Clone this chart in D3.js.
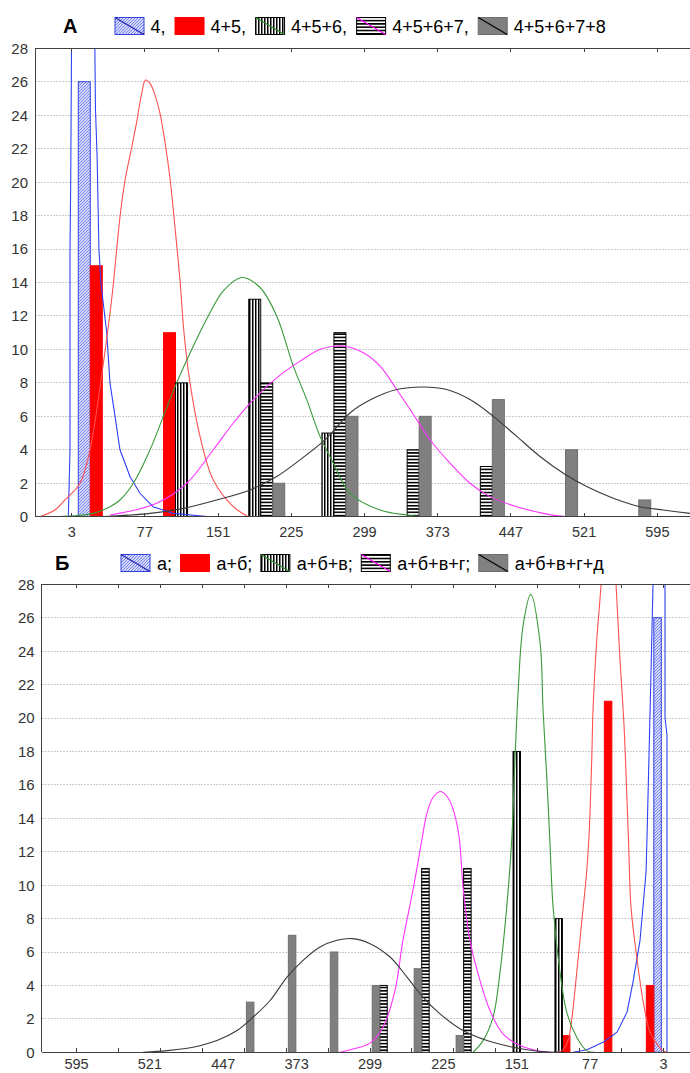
<!DOCTYPE html>
<html><head><meta charset="utf-8">
<script src="https://cdn.jsdelivr.net/npm/d3@7"></script>
<style>
body{margin:0;background:#fff}
svg{display:block}
text{font-family:"Liberation Sans",Arial,sans-serif}
</style>
</head><body>
<svg id="c" width="690" height="1073"></svg>
<script>
// ================= DATA =================
// Panel A
const titleA = "А";
const seriesA = ["4,", "4+5,", "4+5+6,", "4+5+6+7,", "4+5+6+7+8"];
const binEdgesA = [3, 77, 151, 225, 299, 373, 447, 521, 595];
const tickLabelsA = [3, 77, 151, 225, 299, 373, 447, 521, 595];
const countsA1 = [26, 0, 0, 0, 0, 0, 0, 0];
const countsA2 = [15, 11, 0, 0, 0, 0, 0, 0];
const countsA3 = [0, 8, 13, 5, 0, 0, 0, 0];
const countsA4 = [0, 0, 8, 11, 4, 3, 0, 0];
const countsA5 = [0, 0, 2, 6, 6, 7, 4, 1];
const curveA1 = [[-0.4,0],[1.3,4],[1.3,16],[2.0,20],[3.0,30],[14,42],[25.8,30],[26.4,28],[27,24.4],[28.7,21.5],[30.5,16],[32.5,14],[38.4,11],[41.7,8],[46.8,6],[51.8,4],[61.9,2.4],[72,1.4],[85.2,0.6],[105.4,0.2],[142.8,0]];
const curveA2 = [[-29,0],[-14,0.4],[-3.8,1],[11.4,2],[21.5,4],[34.6,9],[43.4,13],[48.5,16],[51.8,17.9],[56.9,20.1],[63.7,22.1],[68.7,23.6],[73.8,25.3],[77.6,26.1],[82.2,25.9],[87.2,25.2],[92.3,24.1],[97.3,22.4],[102.4,20.2],[107.4,17.3],[112.5,14.1],[116.5,11],[122.6,8],[132.7,4.8],[146.1,2.2],[166.4,0.6],[181.5,0]];
const curveA3 = [[-12.2,0],[24.8,0.2],[41.7,0.6],[51.8,1],[65.3,2],[82.2,4],[95.6,6],[109.1,8],[124.3,10],[141.1,12],[156.3,13.5],[174.9,14.3],[193.4,13.7],[210.2,12],[227,9],[240.6,7],[254,4.8],[267.5,3.2],[284.3,1.4],[314.7,0.4],[341.7,0.1],[360,0]];
const curveA4 = [[41.7,0.1],[88.9,0.8],[119.3,2],[146.1,4],[166.4,5.6],[186.6,7],[210.2,8.3],[233.8,9.3],[254,10],[270.9,10.2],[277.6,10.2],[297.8,9.8],[314.7,9],[331.5,7.6],[351.8,5.8],[365.2,4.6],[385.4,3.2],[405.6,2],[425.8,1.2],[452.9,0.6],[479.7,0.2],[503.4,0],[526.9,0]];
const curveA5 = [[31.7,0],[82.2,0.2],[115.8,0.5],[149.6,1],[183.2,1.6],[210.2,2.4],[233.8,3.4],[257.3,4.5],[264.1,4.9],[284.3,6.2],[305.5,7],[331.5,7.6],[358.4,7.75],[382.1,7.6],[405.6,7],[429.2,6],[452.9,4.8],[476.4,3.6],[500,2.6],[523.6,1.8],[550.5,1.1],[577.4,0.6],[601,0.4],[628,0.2]];

// Panel B
const titleB = "Б";
const seriesB = ["а;", "а+б;", "а+б+в;", "а+б+в+г;", "а+б+в+г+д"];
const binEdgesB = [3, 45.3, 87.6, 129.9, 172.1, 214.4, 256.7, 299, 341.3, 383.6, 425.9, 468.1, 510.4, 552.7, 595];
const tickLabelsB = [595, 521, 447, 373, 299, 225, 151, 77, 3];
const countsB1 = [26, 0, 0, 0, 0, 0, 0, 0, 0, 0, 0, 0, 0, 0];
const countsB2 = [4, 21, 1, 0, 0, 0, 0, 0, 0, 0, 0, 0, 0, 0];
const countsB3 = [0, 0, 8, 18, 0, 0, 0, 0, 0, 0, 0, 0, 0, 0];
const countsB4 = [0, 0, 0, 0, 11, 11, 4, 0, 0, 0, 0, 0, 0, 0];
const countsB5 = [0, 0, 0, 0, 1, 5, 4, 6, 7, 3, 0, 0, 0, 0];
const curveB1 = [[94.3,0],[80.2,0.15],[64,0.6],[49.9,1.2],[39.8,2.4],[33.8,4.2],[26.7,6.7],[20.6,10.8],[19.6,13],[15.9,22],[13.6,28],[8,40],[2.5,30],[1.5,28],[1.5,20],[-0.5,19],[-0.5,0]];
const curveB2 = [[110.4,0],[104.4,0.15],[99.3,0.7],[95.6,1.95],[90.5,4.8],[85.5,7.8],[80.5,10.8],[78.1,13],[75.4,17.5],[74.1,20.5],[70.4,24.6],[66,28],[59,36],[50.9,28],[46.9,23.5],[42.8,19.5],[40.1,15.5],[38.3,12.7],[35.8,8.7],[30,5.7],[23.7,3.1],[16.6,1.2],[8.5,0.4],[3.5,0.1],[-0.5,0]];
const curveB3 = [[195.1,0],[185,0.7],[174.9,2.1],[167.9,4.8],[161.1,8.7],[156.1,12.7],[152.8,17.5],[149.7,21.5],[144.7,25.5],[136.9,27.4],[127.5,24.5],[124.5,20.5],[120.8,16.5],[117.5,12.5],[114.4,8.7],[107.4,4.8],[100.6,2.4],[90.5,0.9],[80.5,0.1],[72.1,0]];
const curveB4 = [[329.3,0],[319.2,0.15],[299,0.55],[285.9,1.5],[273.8,3.7],[265.8,6.7],[255.7,9.7],[247,12.6],[242,14.2],[236,15.2],[228,15.6],[220,15.2],[214,14.3],[209,12.8],[204.9,9.7],[198.2,6.7],[188.1,4.3],[178,2.5],[164.9,1.1],[147.7,0.4],[130.6,0.1],[117.5,0]];
const curveB5 = [[527.9,0],[503.7,0.1],[477.5,0.3],[453.3,0.7],[433.1,1.3],[417,2.1],[399.8,3.1],[382.7,4.5],[366.5,5.5],[349.4,6.3],[332.3,6.7],[317.1,6.8],[299,6.5],[278.8,5.7],[261.7,4.5],[245.6,3.3],[228.4,2.3],[205.2,1.3],[181,0.7],[154.8,0.3],[127.5,0.05],[107.4,0]];

const yTicks = [0, 2, 4, 6, 8, 10, 12, 14, 16, 18, 20, 22, 24, 26, 28];

// ================= STYLE =================
const barFill = ["url(#hatchBlue)", "#ff0000", "url(#vstripe)", "url(#hstripe)", "#808080"];
const barStroke = ["#3344dd", "#ff0000", "#000000", "#000000", "#6e6e6e"];
const curveColor = ["#3040f5", "#ff5050", "#3a9a3a", "#ff33ff", "#3a3a3a"];
const swatchDiag = ["#2020b0", null, "#2a8a2a", "#ff00ff", "#000000"];
const curveSmooth = [false, true, true, true, true];

const svg = d3.select("#c");
const defs = svg.append("defs");
const pb = defs.append("pattern").attr("id","hatchBlue").attr("patternUnits","userSpaceOnUse").attr("width",3).attr("height",3);
pb.append("rect").attr("width",3).attr("height",3).attr("fill","#d3d7fa");
pb.append("path").attr("d","M-1,1 L1,-1 M0,3 L3,0 M2,4 L4,2").attr("stroke","#6270ee").attr("stroke-width",0.8);
const pv = defs.append("pattern").attr("id","vstripe").attr("patternUnits","userSpaceOnUse").attr("width",3).attr("height",3);
pv.append("rect").attr("width",3).attr("height",3).attr("fill","#fff");
pv.append("rect").attr("width",1.5).attr("height",3).attr("fill","#000");
const ph = defs.append("pattern").attr("id","hstripe").attr("patternUnits","userSpaceOnUse").attr("width",3).attr("height",3.3);
ph.append("rect").attr("width",3).attr("height",3.3).attr("fill","#fff");
ph.append("rect").attr("width",3).attr("height",1.6).attr("fill","#000");

function drawPanel(cfg) {
  const x = d3.scaleLinear().domain(cfg.xDomain).range([cfg.left, cfg.right]);
  const y = d3.scaleLinear().domain([0, 28]).range([cfg.bottom, cfg.top]);
  const g = svg.append("g");
  const clipId = "clip" + cfg.id;
  defs.append("clipPath").attr("id", clipId).append("rect")
    .attr("x", cfg.left).attr("y", cfg.top).attr("width", cfg.right - cfg.left).attr("height", cfg.bottom - cfg.top);

  // gridlines
  g.append("g").selectAll("line").data(yTicks.filter(d => d > 0 && d < 28)).join("line")
    .attr("x1", cfg.left).attr("x2", cfg.right)
    .attr("y1", d => y(d)).attr("y2", d => y(d))
    .attr("stroke", "#cccccc").attr("stroke-width", 1).attr("stroke-dasharray", "2,1")
    .attr("shape-rendering", "crispEdges");

  // bars
  const bars = g.append("g").attr("clip-path", `url(#${clipId})`);
  const nB = cfg.binEdges.length - 1;
  for (let i = 0; i < nB; i++) {
    const lo = cfg.binEdges[i], hi = cfg.binEdges[i + 1];
    const pad = (hi - lo) * (1 - cfg.groupFrac) / 2;
    const band = d3.scaleBand().domain(d3.range(5)).range([lo + pad, hi - pad]);
    cfg.counts.forEach((arr, s) => {
      const v = arr[i];
      if (!v) return;
      const a = x(band(s)), b = x(band(s) + band.bandwidth());
      bars.append("rect")
        .attr("x", Math.min(a, b)).attr("width", Math.abs(b - a))
        .attr("y", y(v)).attr("height", y(0) - y(v))
        .attr("fill", barFill[s]).attr("stroke", barStroke[s]).attr("stroke-width", 1);
    });
  }

  // curves
  const cg = g.append("g").attr("clip-path", `url(#${clipId})`);
  cfg.curves.forEach((c, s) => {
    const line = d3.line().x(d => x(d[0])).y(d => y(d[1]))
      .curve(curveSmooth[s] ? d3.curveCatmullRom.alpha(0.5) : d3.curveLinear);
    cg.append("path").attr("d", line(c)).attr("fill", "none")
      .attr("stroke", curveColor[s]).attr("stroke-width", 1.1);
  });

  // frame: left, bottom, top
  const ax = g.append("g").attr("stroke", "#404040").attr("stroke-width", 1).attr("shape-rendering", "crispEdges");
  ax.append("line").attr("x1", cfg.left).attr("x2", cfg.left).attr("y1", cfg.top).attr("y2", cfg.bottom);
  ax.append("line").attr("x1", cfg.left).attr("x2", cfg.right).attr("y1", cfg.bottom).attr("y2", cfg.bottom);
  ax.append("line").attr("x1", cfg.left).attr("x2", cfg.right).attr("y1", cfg.top).attr("y2", cfg.top);
  ax.selectAll(".tb").data(cfg.tickMarks).join("line").attr("class","tb")
    .attr("x1", d => x(d)).attr("x2", d => x(d)).attr("y1", cfg.bottom).attr("y2", cfg.bottom - 4);
  ax.selectAll(".tt").data(cfg.tickMarks).join("line").attr("class","tt")
    .attr("x1", d => x(d)).attr("x2", d => x(d)).attr("y1", cfg.top).attr("y2", cfg.top + 4);

  // y labels
  g.append("g").selectAll("text").data(yTicks).join("text")
    .attr("x", cfg.left - 7).attr("y", d => y(d)).attr("dy", "0.36em")
    .attr("text-anchor", "end").attr("font-size", 15).attr("fill", "#333")
    .text(d => d);
  // x labels
  g.append("g").selectAll("text").data(cfg.tickLabels).join("text")
    .attr("x", d => x(d)).attr("y", cfg.bottom + cfg.xLabelDy)
    .attr("text-anchor", "middle").attr("font-size", 14.5).attr("fill", "#333")
    .text(d => d);

  // legend
  const lg = svg.append("g");
  lg.append("text").attr("x", cfg.titleX).attr("y", cfg.legendY).attr("font-size", 20).attr("font-weight", "bold")
    .attr("fill", "#000").text(cfg.title);
  let cx = cfg.legendX;
  const sw = 29, sh = 17;
  cfg.names.forEach((name, s) => {
    const top = cfg.legendY - 15.5;
    lg.append("rect").attr("x", cx).attr("y", top).attr("width", sw).attr("height", sh)
      .attr("fill", barFill[s]).attr("stroke", barStroke[s]).attr("stroke-width", 1);
    if (swatchDiag[s]) {
      lg.append("line").attr("x1", cx).attr("y1", top).attr("x2", cx + sw).attr("y2", top + sh)
        .attr("stroke", swatchDiag[s]).attr("stroke-width", 1.2);
    }
    const t = lg.append("text").attr("x", cx + sw + cfg.textGap).attr("y", cfg.legendY)
      .attr("font-size", 18).attr("fill", "#000").text(name);
    cx = cx + sw + cfg.textGap + t.node().getComputedTextLength() + cfg.itemGap;
  });
}

drawPanel({
  id: "A", left: 35, right: 690, top: 48.3, bottom: 516.7, xDomain: [-34.1, 628],
  binEdges: binEdgesA, groupFrac: 0.82,
  counts: [countsA1, countsA2, countsA3, countsA4, countsA5],
  curves: [curveA1, curveA2, curveA3, curveA4, curveA5],
  tickMarks: tickLabelsA, tickLabels: tickLabelsA, xLabelDy: 20,
  title: titleA, titleX: 63, legendY: 33, legendX: 115, names: seriesA, textGap: 6.5, itemGap: 9.5
});
drawPanel({
  id: "B", left: 41.7, right: 690, top: 584.3, bottom: 1052.3, xDomain: [630.1, -23.7],
  binEdges: binEdgesB, groupFrac: 0.894,
  counts: [countsB1, countsB2, countsB3, countsB4, countsB5],
  curves: [curveB1, curveB2, curveB3, curveB4, curveB5],
  tickMarks: binEdgesB, tickLabels: tickLabelsB, xLabelDy: 17,
  title: titleB, titleX: 55, legendY: 570, legendX: 121, names: seriesB, textGap: 7, itemGap: 8.5
});
</script>
</body></html>
